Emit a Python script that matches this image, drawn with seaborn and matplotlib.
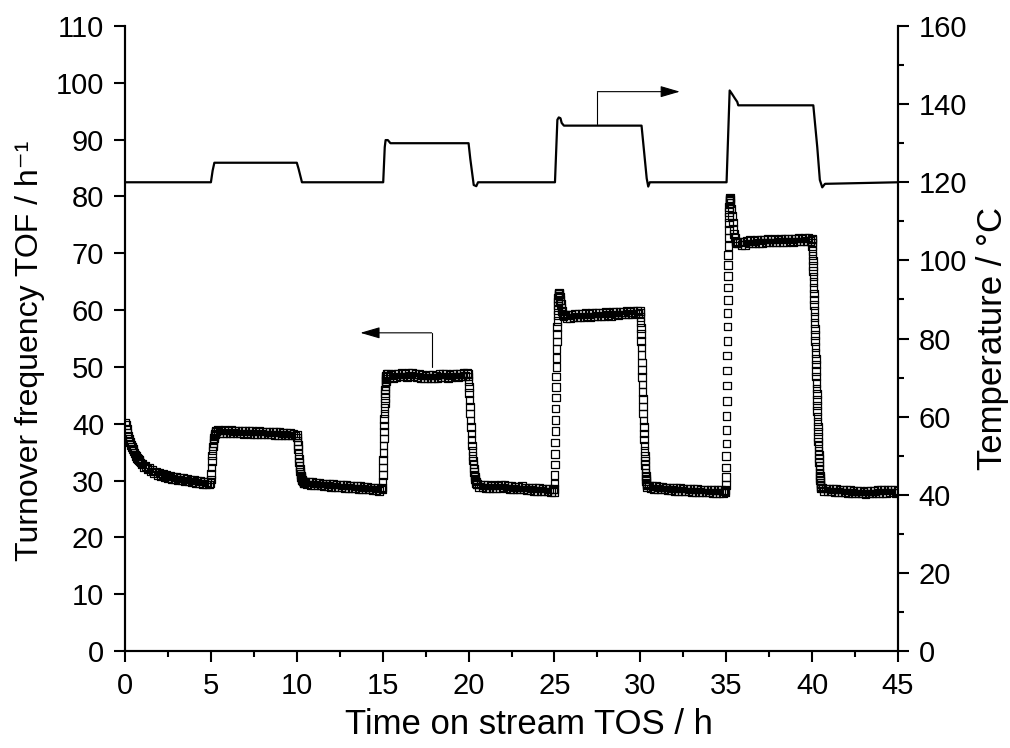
"""
TOF 与温度随反应时间变化 — 双轴图
左轴：Turnover frequency（空心方块），右轴：Temperature（折线）
"""
import matplotlib

matplotlib.use("Agg")
import matplotlib.pyplot as plt
import numpy as np
import pandas as pd
import seaborn as sns
from matplotlib.ticker import MultipleLocator

# ---------------------------------------------------------------------------
# 数据：每段 = (起始时间 h, 采样间隔 h, TOF 值)
# ---------------------------------------------------------------------------
TOF_START_DECAY = (0.0, 0.05, [
    40.2, 39.8, 39.1, 38.4, 37.8, 37.3, 36.8, 36.3, 35.9, 35.6,
    35.2, 34.9, 34.6, 34.3, 34.0, 33.8, 33.6, 33.4, 33.2, 33.0])
TOF_PLATEAU_120_A = (1.0, 0.1, [
    32.9, 32.4, 32.6, 32.0, 32.2, 31.6, 31.9, 31.3, 31.6, 31.0,
    31.3, 30.8, 31.1, 30.6, 31.0, 30.5, 30.8, 30.3, 30.7, 30.2,
    30.6, 30.1, 30.5, 30.0, 30.4, 29.9, 30.3, 29.8, 30.2, 29.7,
    30.1, 29.6, 30.0, 29.5, 29.9, 29.4, 29.8, 29.3, 29.7, 29.3])
TOF_RISE_125 = (4.98, 0.02, [
    29.6, 30.2, 31.2, 32.3, 33.4, 34.4, 35.3, 36.0, 36.6, 37.1,
    37.5, 37.8, 38.1, 38.3, 38.5, 38.6, 38.7])
TOF_PLATEAU_125 = (5.4, 0.1, [
    38.9, 38.4, 38.8, 38.3, 38.9, 38.4, 38.8, 38.3, 38.9, 38.4,
    38.7, 38.3, 38.8, 38.3, 38.7, 38.2, 38.8, 38.3, 38.7, 38.2,
    38.7, 38.2, 38.6, 38.1, 38.7, 38.2, 38.6, 38.1, 38.6, 38.1,
    38.5, 38.1, 38.6, 38.0, 38.5, 38.0, 38.5, 37.9, 38.4, 38.0,
    38.4, 37.9, 38.4, 37.9, 38.3, 37.9])
TOF_FALL_125 = (10.0, 0.02, [
    38.0, 37.6, 37.0, 36.3, 35.5, 34.7, 33.9, 33.2, 32.6, 32.1,
    31.6, 31.2, 30.9, 30.6, 30.4, 30.2, 30.0, 29.9, 29.8, 29.7,
    29.6, 29.5])
TOF_PLATEAU_120_B = (10.5, 0.1, [
    29.8, 29.3, 29.7, 29.2, 29.7, 29.2, 29.6, 29.1, 29.6, 29.1,
    29.5, 29.0, 29.5, 29.0, 29.4, 28.9, 29.4, 28.9, 29.3, 28.8,
    29.3, 28.8, 29.2, 28.7, 29.2, 28.7, 29.1, 28.6, 29.1, 28.6,
    29.0, 28.5, 29.0, 28.5, 28.9, 28.4, 28.9, 28.4, 28.8, 28.3,
    28.8, 28.3, 28.7, 28.2, 28.6])
TOF_RISE_130 = (14.98, 0.01, [
    28.4, 28.8, 29.8, 31.0, 32.3, 33.6, 34.9, 36.2, 37.4, 38.6,
    39.7, 40.8, 41.8, 42.8, 43.7, 44.5, 45.3, 46.0, 46.6, 47.1,
    47.5, 47.9, 48.2, 48.5, 48.7])
TOF_PLATEAU_130 = (15.3, 0.1, [
    48.8, 48.2, 48.6, 48.1, 48.7, 48.2, 48.8, 48.3, 48.9, 48.3,
    48.7, 48.2, 48.9, 48.4, 49.0, 48.3, 48.8, 48.2, 48.7, 48.1,
    48.6, 48.0, 48.5, 48.0, 48.6, 48.1, 48.6, 48.0, 48.5, 48.1,
    48.7, 48.2, 48.8, 48.2, 48.7, 48.1, 48.6, 48.2, 48.8, 48.3,
    48.7, 48.2, 48.8, 48.3, 48.9, 48.4, 48.9])
TOF_FALL_130 = (19.96, 0.02, [
    48.8, 48.3, 47.5, 46.5, 45.4, 44.2, 43.0, 41.8, 40.6, 39.4,
    38.3, 37.2, 36.2, 35.2, 34.3, 33.5, 32.8, 32.1, 31.5, 31.0,
    30.6, 30.3, 30.0, 29.8, 29.6, 29.4])
TOF_PLATEAU_120_C = (20.5, 0.1, [
    29.4, 28.9, 29.3, 28.8, 29.2, 28.7, 29.2, 28.7, 29.1, 28.6,
    29.2, 28.7, 29.1, 28.6, 29.3, 28.8, 29.2, 28.6, 29.0, 28.5,
    29.0, 28.5, 28.9, 28.4, 28.9, 28.4, 29.0, 28.4, 28.8, 28.3,
    28.8, 28.3, 28.7, 28.2, 28.8, 28.2, 28.7, 28.2, 28.6, 28.1,
    28.6, 28.1, 28.5, 28.0, 28.4])
TOF_RISE_135 = (24.98, 0.01, [
    28.0, 28.5, 29.5, 31.0, 32.8, 34.7, 36.7, 38.7, 40.7, 42.7,
    44.6, 46.5, 48.3, 50.0, 51.6, 53.1, 54.5, 55.8, 57.0, 58.1,
    59.1, 60.0, 60.8, 61.5, 62.1, 62.6, 62.9, 63.0])
TOF_OVERSHOOT_135 = (25.28, 0.03, [
    62.8, 62.4, 61.8, 61.1, 60.4, 59.8, 59.4, 59.1, 58.9])
TOF_PLATEAU_135 = (25.6, 0.1, [
    59.2, 58.6, 59.1, 58.6, 59.2, 58.7, 59.3, 58.8, 59.3, 58.7,
    59.3, 58.8, 59.5, 58.9, 59.3, 58.8, 59.5, 58.9, 59.5, 59.0,
    59.5, 58.9, 59.5, 59.0, 59.7, 59.1, 59.5, 59.0, 59.7, 59.2,
    59.7, 59.1, 59.7, 59.2, 59.7, 59.2, 59.9, 59.3, 59.7, 59.2,
    59.9, 59.4, 59.9, 59.4])
TOF_FALL_135 = (29.98, 0.012, [
    59.8, 59.5, 58.8, 57.9, 56.9, 55.8, 54.6, 53.4, 52.1, 50.8,
    49.5, 48.2, 46.9, 45.6, 44.3, 43.0, 41.8, 40.6, 39.4, 38.3,
    37.2, 36.2, 35.2, 34.3, 33.5, 32.7, 32.0, 31.4, 30.8, 30.3,
    29.9, 29.6, 29.3, 29.1, 28.9])
TOF_PLATEAU_120_D = (30.5, 0.1, [
    29.1, 28.6, 29.0, 28.5, 29.0, 28.5, 28.9, 28.4, 28.9, 28.4,
    28.8, 28.3, 28.8, 28.3, 28.7, 28.2, 28.7, 28.2, 28.7, 28.2,
    28.6, 28.1, 28.6, 28.1, 28.5, 28.0, 28.5, 28.0, 28.5, 28.0,
    28.4, 27.9, 28.4, 27.9, 28.4, 27.9, 28.3, 27.8, 28.3, 27.8,
    28.3, 27.8, 28.3, 27.8, 28.2])
TOF_RISE_140 = (34.96, 0.008, [
    28.0, 28.3, 29.2, 30.6, 32.3, 34.3, 36.5, 38.9, 41.4, 44.0,
    46.7, 49.4, 52.0, 54.6, 57.1, 59.5, 61.8, 64.0, 66.0, 67.9,
    69.7, 71.3, 72.8, 74.1, 75.3, 76.4, 77.3, 78.1, 78.8, 79.3,
    79.6, 79.7])
TOF_OVERSHOOT_140 = (35.22, 0.04, [
    79.4, 78.8, 77.8, 76.6, 75.4, 74.3, 73.4, 72.7, 72.2, 71.9,
    71.8, 71.8])
TOF_PLATEAU_140 = (35.8, 0.1, [
    72.1, 71.5, 72.0, 71.5, 72.2, 71.7, 72.3, 71.7, 72.2, 71.7,
    72.4, 71.8, 72.3, 71.8, 72.4, 71.9, 72.5, 71.9, 72.4, 71.9,
    72.5, 71.9, 72.4, 72.0, 72.6, 72.0, 72.5, 72.0, 72.6, 72.1,
    72.5, 72.0, 72.6, 72.1, 72.7, 72.1, 72.6, 72.1, 72.7, 72.2,
    72.8, 72.2])
TOF_FALL_140 = (39.98, 0.01, [
    72.6, 72.4, 71.9, 71.2, 70.4, 69.6, 68.7, 67.8, 66.9, 65.9,
    64.9, 63.9, 62.9, 61.9, 60.9, 59.8, 58.8, 57.7, 56.7, 55.6,
    54.6, 53.5, 52.5, 51.4, 50.4, 49.3, 48.3, 47.2, 46.2, 45.2,
    44.2, 43.2, 42.2, 41.3, 40.4, 39.5, 38.6, 37.7, 36.9, 36.1,
    35.3, 34.6, 33.9, 33.2, 32.6, 32.0, 31.4, 30.9, 30.4, 30.0,
    29.6, 29.3, 29.0, 28.8, 28.6])
TOF_PLATEAU_120_E = (40.6, 0.1, [
    28.7, 28.2, 28.6, 28.1, 28.6, 28.1, 28.5, 28.0, 28.5, 28.0,
    28.4, 27.9, 28.4, 27.9, 28.3, 27.8, 28.3, 27.8, 28.2, 27.7,
    28.2, 27.7, 28.2, 27.7, 28.1, 27.6, 28.2, 27.7, 28.2, 27.7,
    28.2, 27.7, 28.3, 27.8, 28.3, 27.8, 28.3, 27.8, 28.4, 27.9,
    28.4, 27.9, 28.3, 27.8, 28.2])

TOF_SEGMENTS = [
    TOF_START_DECAY, TOF_PLATEAU_120_A, TOF_RISE_125, TOF_PLATEAU_125,
    TOF_FALL_125, TOF_PLATEAU_120_B, TOF_RISE_130, TOF_PLATEAU_130,
    TOF_FALL_130, TOF_PLATEAU_120_C, TOF_RISE_135, TOF_OVERSHOOT_135,
    TOF_PLATEAU_135, TOF_FALL_135, TOF_PLATEAU_120_D, TOF_RISE_140,
    TOF_OVERSHOOT_140, TOF_PLATEAU_140, TOF_FALL_140, TOF_PLATEAU_120_E,
]

# 温度曲线折点
TEMP_TIME = [0.0, 5.0, 5.1, 5.2, 10.0, 10.1, 10.3, 15.03, 15.12, 15.17,
             15.3, 15.45, 20.0, 20.1, 20.3, 20.45, 20.55, 25.03, 25.17,
             25.25, 25.35, 25.42, 25.55, 30.07, 30.37, 30.46, 30.55,
             35.02, 35.2, 35.34, 35.5, 35.64, 35.7, 40.07, 40.3, 40.45,
             40.59, 40.75, 45.0]
TEMP_VALUE = [120, 120, 123, 125, 125, 123.5, 120, 120, 129, 130.8,
              130.8, 130, 130, 126, 119.3, 119, 120, 120, 136,
              136.6, 136.4, 135.2, 134.5, 134.5, 121, 118.9, 120,
              120, 143.5, 142.6, 141.5, 140.6, 139.7, 139.7, 129, 120.6,
              118.7, 119.6, 120]

X_LABEL = "Time on stream TOS / h"
Y_LABEL = "Turnover frequency TOF / h⁻¹"
Y2_LABEL = "Temperature / °C"


def build_tof_frame() -> pd.DataFrame:
    parts = []
    for t0, dt, vals in TOF_SEGMENTS:
        t = t0 + dt * np.arange(len(vals))
        parts.append(pd.DataFrame({"TOS": t, "TOF": vals}))
    return pd.concat(parts, ignore_index=True)


def main() -> None:
    sns.set_theme(style="ticks")
    plt.rcParams.update({
        "font.family": ["Liberation Sans", "DejaVu Sans"],
        "axes.linewidth": 1.5,
        "text.color": "black",
        "axes.labelcolor": "black",
        "xtick.color": "black",
        "ytick.color": "black",
        "axes.edgecolor": "black",
    })

    tof = build_tof_frame()
    temp = pd.DataFrame({"TOS": TEMP_TIME, "T": TEMP_VALUE})

    fig = plt.figure(figsize=(10.1, 7.48), dpi=100)
    ax = fig.add_axes([0.1238, 0.1297, 0.7653, 0.8355])
    ax2 = ax.twinx()

    # 空心方块（无填充，密集处叠成黑带）
    sns.scatterplot(data=tof, x="TOS", y="TOF", marker="s", s=30,
                    facecolor="none", edgecolor="black", linewidth=0.9,
                    ax=ax, legend=False, zorder=3)
    sns.lineplot(data=temp, x="TOS", y="T", sort=False, estimator=None,
                 color="black", linewidth=1.6, ax=ax2)

    ax.set_xlim(0, 45)
    ax.set_ylim(0, 110)
    ax2.set_ylim(0, 160)
    ax.xaxis.set_major_locator(MultipleLocator(5))
    ax.xaxis.set_minor_locator(MultipleLocator(2.5))
    ax.yaxis.set_major_locator(MultipleLocator(10))
    ax2.yaxis.set_major_locator(MultipleLocator(20))
    ax2.yaxis.set_minor_locator(MultipleLocator(10))

    for a in (ax, ax2):
        a.spines["top"].set_visible(False)
        a.tick_params(which="major", direction="out", length=8, width=1.5,
                      labelsize=21, pad=7)
        a.tick_params(which="minor", direction="out", length=4, width=1.5)

    ax.set_xlabel(X_LABEL, fontsize=25)
    ax.xaxis.set_label_coords(0.5226, -0.091)
    ax.set_ylabel(Y_LABEL, fontsize=23)
    ax.yaxis.set_label_coords(-0.104, 0.48)
    ax2.set_ylabel(Y2_LABEL, fontsize=25, labelpad=6)

    # 指示箭头
    arrow = dict(arrowstyle="-|>,head_length=12,head_width=3.5",
                 mutation_scale=1, color="black", lw=0.8,
                 shrinkA=0, shrinkB=0)
    ax.plot([17.85, 17.85], [50, 56], color="black", lw=0.8)
    ax.annotate("", xy=(13.7, 56), xytext=(17.85, 56), arrowprops=arrow)
    ax2.plot([27.5, 27.5], [135, 143.2], color="black", lw=0.8)
    ax2.annotate("", xy=(32.3, 143.2), xytext=(27.5, 143.2),
                 arrowprops=arrow)

    fig.savefig("out.png", dpi=100)
    plt.close(fig)


if __name__ == "__main__":
    main()
